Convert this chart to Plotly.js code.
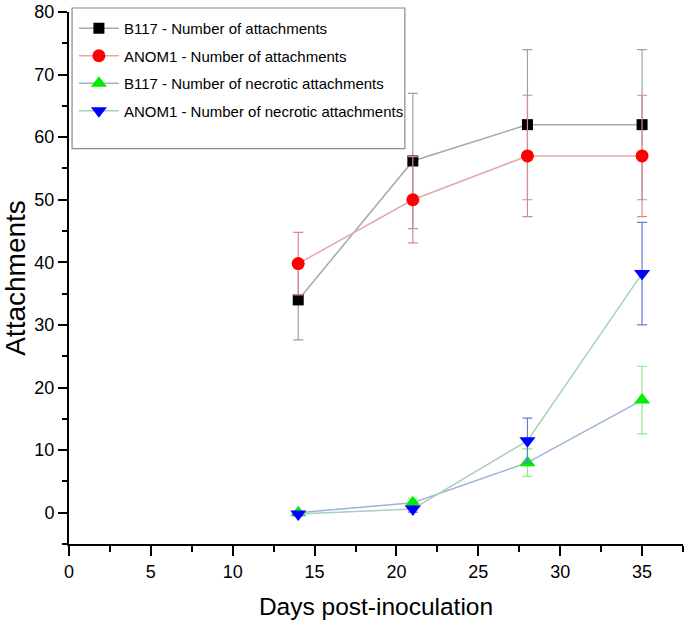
<!DOCTYPE html>
<html>
<head>
<meta charset="utf-8">
<script src="https://cdn.plot.ly/plotly-3.0.1.min.js"></script>
<style>html,body{margin:0;padding:0;background:#fff;}#chart{width:685px;height:629px;}</style>
</head>
<body>
<div id="chart"></div>
<script>
const days = [14, 21, 28, 35];

const b117Attach = [34, 56.2, 62, 62];
const b117AttachErr = [6.4, 10.8, 12, 12];

const anom1Attach = [39.8, 50, 57, 57];
const anom1AttachErr = [5, 6.9, 9.7, 9.7];

const b117Necrotic = [0, 1.6, 8, 18];
const b117NecroticErr = [0.3, 0.6, 2.2, 5.4];

const anom1Necrotic = [-0.2, 0.6, 11.5, 38.2];
const anom1NecroticErr = [0.3, 0.5, 3.6, 8.2];

const seriesNames = [
  'B117 - Number of attachments',
  'ANOM1 - Number of attachments',
  'B117 - Number of necrotic attachments',
  'ANOM1 - Number of necrotic attachments'
];

function trace(name, group, y, err, lineColor, errColor, symbol, markerColor, size) {
  return {
    x: days, y: y, name: name, legendgroup: group, type: 'scatter', mode: 'lines+markers',
    line: {color: lineColor, width: 1.5},
    marker: {symbol: symbol, color: markerColor, size: size},
    error_y: {type: 'data', array: err, visible: true, color: errColor, thickness: 1.2, width: 5}
  };
}

const data = [
  trace(seriesNames[0], 'g1', b117Attach, b117AttachErr, '#a8a8a8', '#a0a0a0', 'square', '#000000', 11),
  trace(seriesNames[1], 'g2', anom1Attach, anom1AttachErr, '#e6a8a8', '#d88a8a', 'circle', '#ff0000', 13),
  trace(seriesNames[2], 'g3', b117Necrotic, b117NecroticErr, '#9db4d4', '#8ee88e', 'triangle-up', '#00ee00', 14),
  trace(seriesNames[3], 'g4', anom1Necrotic, anom1NecroticErr, '#a6d0c0', '#6a78d8', 'triangle-down', '#0000ff', 14)
];

const layout = {
  width: 685, height: 629,
  margin: {l: 69, r: 2, t: 12, b: 85},
  paper_bgcolor: '#ffffff', plot_bgcolor: '#ffffff',
  font: {family: 'Liberation Sans, Arial, sans-serif', color: '#000'},
  showlegend: true,
  legend: {
    x: 0.008, y: 1.0, xanchor: 'left', yanchor: 'top',
    bgcolor: 'rgba(255,255,255,0)', borderwidth: 0,
    font: {size: 15, color: '#000'},
    tracegroupgap: 5, itemwidth: 40
  },
  shapes: [{
    type: 'rect', xref: 'paper', yref: 'paper',
    x0: 0.005, x1: 0.547, y0: 0.743, y1: 1.0075,
    line: {color: '#8a8a8a', width: 1.2}, fillcolor: 'rgba(0,0,0,0)', layer: 'above'
  }],
  xaxis: {
    range: [0, 37.5], dtick: 5, tick0: 0,
    showgrid: false, zeroline: false,
    showline: true, linecolor: '#000', linewidth: 2,
    ticks: 'outside', ticklen: 10, tickwidth: 2, tickcolor: '#000',
    minor: {dtick: 2.5, ticks: 'outside', ticklen: 6, tickwidth: 2, tickcolor: '#000', showgrid: false},
    tickfont: {size: 18},
    title: {text: 'Days post-inoculation', font: {size: 24.5}, standoff: 17}
  },
  yaxis: {
    range: [-5, 80], dtick: 10, tick0: 0,
    showgrid: false, zeroline: false,
    showline: true, linecolor: '#000', linewidth: 2,
    ticks: 'outside', ticklen: 9, tickwidth: 2, tickcolor: '#000',
    minor: {dtick: 5, ticks: 'outside', ticklen: 5, tickwidth: 2, tickcolor: '#000', showgrid: false},
    tickfont: {size: 18},
    title: {text: 'Attachments', font: {size: 28}, standoff: 4}
  }
};

Plotly.newPlot('chart', data, layout, {displayModeBar: false, staticPlot: true});
</script>
</body>
</html>
